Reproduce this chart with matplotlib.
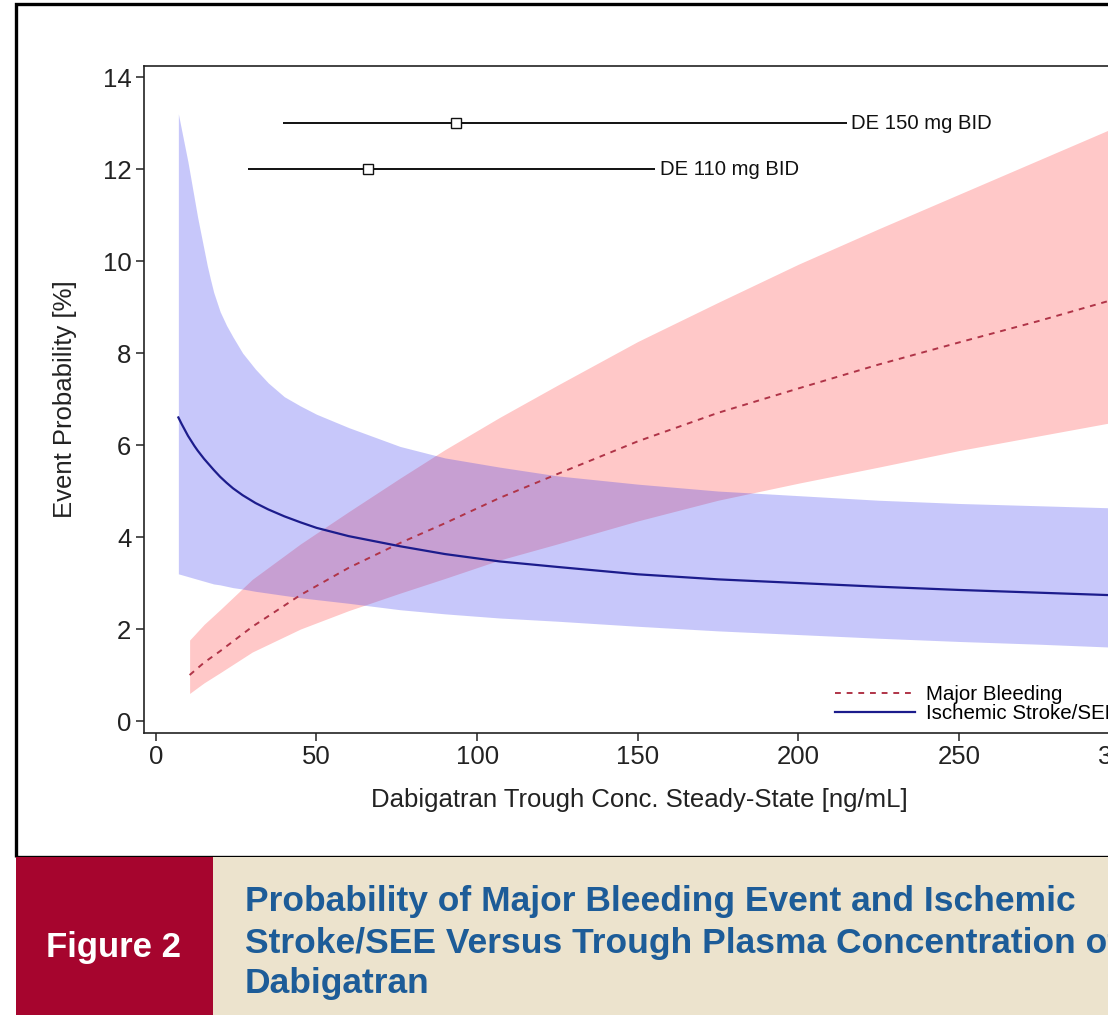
import numpy as np
import matplotlib
matplotlib.use("Agg")
import matplotlib.pyplot as plt
from matplotlib.lines import Line2D
from matplotlib.patches import Rectangle

plt.rcParams["font.family"] = ["Liberation Sans", "DejaVu Sans"]

# --- data ---------------------------------------------------------------
# Ischemic stroke / SEE (blue)
conc_stroke = [7, 8, 9, 10, 11, 12, 13, 14, 15, 16, 17, 18, 20, 22, 24, 27,
               31, 35, 40, 45, 50, 60, 76, 90, 107, 125, 150, 175, 200, 225,
               250, 275, 300]
stroke_mid = [6.6, 6.46, 6.33, 6.2, 6.09, 5.98, 5.88, 5.79, 5.7, 5.62, 5.54,
              5.46, 5.31, 5.18, 5.06, 4.91, 4.74, 4.6, 4.45, 4.32, 4.2, 4.02,
              3.8, 3.63, 3.47, 3.35, 3.19, 3.08, 3.0, 2.92, 2.85, 2.79, 2.73]
stroke_lo = [3.2, 3.18, 3.16, 3.14, 3.12, 3.1, 3.08, 3.06, 3.04, 3.02, 3.0,
             2.98, 2.96, 2.93, 2.9, 2.87, 2.82, 2.78, 2.73, 2.68, 2.64, 2.56,
             2.42, 2.33, 2.24, 2.17, 2.06, 1.96, 1.88, 1.8, 1.73, 1.67, 1.6]
stroke_hi = [13.2, 12.85, 12.5, 12.15, 11.75, 11.35, 10.95, 10.6, 10.25, 9.9,
             9.6, 9.32, 8.9, 8.6, 8.35, 8.0, 7.65, 7.35, 7.05, 6.85, 6.67,
             6.38, 5.97, 5.72, 5.52, 5.33, 5.15, 5.0, 4.9, 4.8, 4.73, 4.68,
             4.63]

# Major bleeding (red)
conc_bleed = [10.5, 15, 20, 30, 45, 60, 76, 90, 107, 125, 150, 175, 200,
              225, 250, 275, 300]
bleed_mid = [1.0, 1.27, 1.52, 2.05, 2.74, 3.33, 3.87, 4.3, 4.85, 5.37, 6.08,
             6.7, 7.23, 7.75, 8.23, 8.7, 9.2]
bleed_lo = [0.6, 0.83, 1.05, 1.5, 2.0, 2.4, 2.78, 3.1, 3.5, 3.85, 4.35, 4.8,
            5.17, 5.52, 5.88, 6.2, 6.52]
bleed_hi = [1.76, 2.1, 2.42, 3.08, 3.85, 4.55, 5.28, 5.9, 6.6, 7.3, 8.25, 9.1,
            9.93, 10.7, 11.45, 12.2, 12.95]

# trough concentration ranges per dose
dose_labels = ["DE 150 mg BID", "DE 110 mg BID"]
dose_y = [13, 12]
dose_median = [93.5, 66]
dose_low = [39.6, 28.7]
dose_high = [215, 155.3]

x_ticks = [0, 50, 100, 150, 200, 250, 300]
y_ticks = [0, 2, 4, 6, 8, 10, 12, 14]

fig_label = "Figure 2"
title_lines = [
    "Probability of Major Bleeding Event and Ischemic",
    "Stroke/SEE Versus Trough Plasma Concentration of",
    "Dabigatran",
]

# --- figure -------------------------------------------------------------
W, H = 1108, 1015
fig = plt.figure(figsize=(W / 100, H / 100), dpi=100)
fig.patch.set_facecolor("white")

# axes placed in pixel terms, right side runs off the page like the scan
ax = fig.add_axes([144 / W, 1 - 733 / H, 991.6 / W, 667 / H])

ax.fill_between(conc_bleed, bleed_lo, bleed_hi, color="#ffc8c8", lw=0, zorder=1)
ax.fill_between(conc_stroke, stroke_lo, stroke_hi, color=(0.2, 0.2, 0.93),
                alpha=0.27, lw=0, zorder=2)
ax.plot(conc_bleed, bleed_mid, color="#b03448", lw=1.4, ls=(0, (3, 3)), zorder=3)
ax.plot(conc_stroke, stroke_mid, color="#1c1c8c", lw=1.6, zorder=4)

for lab, yy, med, lo, hi in zip(dose_labels, dose_y, dose_median, dose_low, dose_high):
    ax.hlines(yy, lo, hi, color="#111111", lw=1.4, zorder=5)
    ax.plot(med, yy, marker="s", ms=7.5, mfc="white", mec="#111111", mew=1.0,
            ls="none", zorder=6)
    ax.text(hi + 1.5, yy, lab, fontsize=14.6, va="center", ha="left",
            color="#111111")

ax.set_xlim(-3.7, 305)
ax.set_ylim(-0.26, 14.24)
ax.set_xticks(x_ticks)
ax.set_yticks(y_ticks)
ax.tick_params(direction="out", length=6, width=1.1, labelsize=18.5,
               colors="#222222", pad=3)
for sp in ax.spines.values():
    sp.set_linewidth(1.2)
    sp.set_color("#222222")

ax.set_xlabel("Dabigatran Trough Conc. Steady-State [ng/mL]", fontsize=18.5,
              color="#222222", labelpad=13)
ax.set_ylabel("Event Probability [%]", fontsize=18.5, color="#222222")
ax.yaxis.set_label_coords(-0.0675, 0.5)

handles = [
    Line2D([], [], color="#b03448", lw=1.4, ls=(0, (3, 3))),
    Line2D([], [], color="#1c1c8c", lw=1.6),
]
ax.legend(handles, ["Major Bleeding", "Ischemic Stroke/SEE"], loc="lower left",
          bbox_to_anchor=(0.697, 0.015), frameon=False, fontsize=14.8,
          handlelength=3.9, handletextpad=0.5, labelspacing=0.0,
          borderpad=0, borderaxespad=0)

# outer black frame of the page
fig.add_artist(Rectangle((16 / W, 1 - 857 / H), 1.2, (857 - 4) / H,
                         transform=fig.transFigure, fill=False,
                         edgecolor="black", lw=2.4, zorder=0))

# caption band
fig.add_artist(Rectangle((213 / W, 0), 1 - 213 / W, 1 - 857 / H,
                         transform=fig.transFigure, facecolor="#ece3cd",
                         edgecolor="none", zorder=10))
fig.add_artist(Rectangle((16 / W, 0), (213 - 16) / W, 1 - 857 / H,
                         transform=fig.transFigure, facecolor="#a6052e",
                         edgecolor="none", zorder=11))
fig.text(114 / W, 1 - 947 / H, fig_label, color="white", fontsize=25,
         fontweight="bold", ha="center", va="center", zorder=12)
for i, line in enumerate(title_lines):
    fig.text(245 / W, 1 - (902 + 41 * i) / H, line, color="#1d5c98",
             fontsize=25.5, fontweight="bold", ha="left", va="center", zorder=12)

fig.savefig("out.png", dpi=100)
